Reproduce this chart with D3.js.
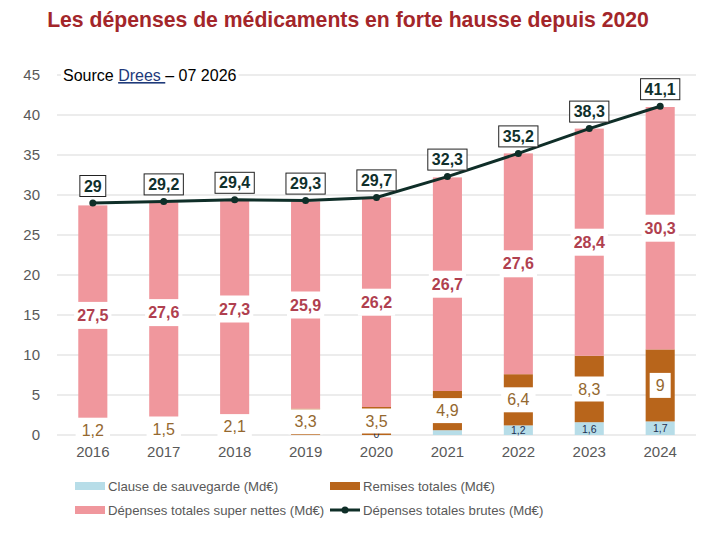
<!DOCTYPE html>
<html>
<head>
<meta charset="utf-8">
<script src="https://cdn.jsdelivr.net/npm/d3@7"></script>
<style>
  body { margin: 0; background: #fff; }
  svg { font-family: "Liberation Sans", Arial, sans-serif; }
</style>
</head>
<body>
<div id="container"></div>
<script>
//CONSTANTS AND GLOBALS
const width = 708,
    height = 540,
    margin = {top: 75, bottom: 105, left: 57, right: 12};

// DATA
const years = ["2016", "2017", "2018", "2019", "2020", "2021", "2022", "2023", "2024"];
const clause = [0, 0, 0, 0, 0, 0.6, 1.2, 1.6, 1.7];
const clauseLabels = [null, null, null, null, "0", null, "1,2", "1,6", "1,7"];
const remises = [1.2, 1.5, 2.1, 3.3, 3.5, 4.9, 6.4, 8.3, 9];
const superNettes = [27.5, 27.6, 27.3, 25.9, 26.2, 26.7, 27.6, 28.4, 30.3];
const brutes = [29, 29.2, 29.4, 29.3, 29.7, 32.3, 35.2, 38.3, 41.1];
const yTicks = [0, 5, 10, 15, 20, 25, 30, 35, 40, 45];

const colors = {
  clause: "#b7dde8",
  remises: "#b8651b",
  nettes: "#f0979d",
  brutes: "#0f2e28"
};

const fmt = v => String(v).replace(".", ",");

const data = years.map((y, i) => ({
  year: y,
  clause: clause[i],
  remises: remises[i],
  nettes: superNettes[i],
  brutes: brutes[i],
  clauseLabel: clauseLabels[i]
}));

//SCALES
const xScale = d3.scaleBand()
  .domain(years)
  .range([margin.left, width - margin.right])
  .paddingInner(0.59)
  .paddingOuter(0.3);

const yScale = d3.scaleLinear()
  .domain([0, 45])
  .range([height - margin.bottom, margin.top]);

const svg = d3.select("#container")
  .append("svg")
  .attr("width", width)
  .attr("height", height);

// title
svg.append("text")
  .attr("x", 348)
  .attr("y", 27)
  .attr("text-anchor", "middle")
  .attr("font-size", 21.2)
  .attr("font-weight", "bold")
  .attr("fill", "#a3262a")
  .text("Les dépenses de médicaments en forte hausse depuis 2020");

// gridlines
svg.append("g")
  .selectAll("line")
  .data(yTicks)
  .join("line")
  .attr("x1", margin.left)
  .attr("x2", width - margin.right)
  .attr("y1", d => yScale(d))
  .attr("y2", d => yScale(d))
  .attr("stroke", "#d9d9d9")
  .attr("stroke-width", 1);

// y axis
const yAxisGroup = svg.append("g")
  .attr("transform", `translate(${margin.left - 14}, 0)`)
  .call(d3.axisLeft(yScale).tickValues(yTicks).tickSize(0).tickFormat(d => d));
yAxisGroup.select(".domain").remove();
yAxisGroup.selectAll("text")
  .attr("font-size", 15)
  .attr("fill", "#595959")
  .attr("font-family", "Liberation Sans, Arial, sans-serif");

// x axis
const xAxisGroup = svg.append("g")
  .attr("transform", `translate(0, ${height - margin.bottom + 8})`)
  .call(d3.axisBottom(xScale).tickSize(0));
xAxisGroup.select(".domain").remove();
xAxisGroup.selectAll("text")
  .attr("font-size", 15)
  .attr("fill", "#595959")
  .attr("font-family", "Liberation Sans, Arial, sans-serif");

// stacked bars
const keys = ["clause", "remises", "nettes"];
const stack = d3.stack().keys(keys)(data);

svg.append("g")
  .selectAll("g")
  .data(stack)
  .join("g")
  .attr("fill", d => colors[d.key])
  .selectAll("rect")
  .data(d => d)
  .join("rect")
  .attr("x", d => xScale(d.data.year))
  .attr("width", xScale.bandwidth())
  .attr("y", d => yScale(d[1]))
  .attr("height", d => yScale(d[0]) - yScale(d[1]));

// label helper: white box behind text
function boxedLabel(g, x, y, txt, opts) {
  const t = g.append("text")
    .attr("x", x)
    .attr("y", y)
    .attr("text-anchor", "middle")
    .attr("dominant-baseline", "central")
    .attr("font-size", opts.size)
    .attr("font-weight", opts.weight || "normal")
    .attr("fill", opts.color)
    .text(txt);
  const bb = t.node().getBBox();
  const px = opts.padX || 3, py = opts.padY || 1;
  const w = Math.max(bb.width + 2 * px, opts.minW || 0);
  g.insert("rect", "text:last-child")
    .attr("x", x - w / 2)
    .attr("y", bb.y - py)
    .attr("width", w)
    .attr("height", bb.height + 2 * py)
    .attr("fill", "#fff")
    .attr("stroke", opts.stroke || "none")
    .attr("stroke-width", 1);
}

const cx = d => xScale(d.year) + xScale.bandwidth() / 2;

// clause labels
const clauseG = svg.append("g");
data.forEach(d => {
  if (d.clauseLabel === null) return;
  clauseG.append("text")
    .attr("x", cx(d)).attr("y", yScale(d.clause / 2) - (d.clause === 0 ? 1 : 0))
    .attr("text-anchor", "middle")
    .attr("dominant-baseline", "central")
    .attr("font-size", 10.5)
    .attr("fill", "#1f3050")
    .text(d.clauseLabel);
});

// remises labels
const remG = svg.append("g");
data.forEach(d => {
  const g = remG.append("g");
  boxedLabel(g, cx(d), yScale(d.clause + d.remises / 2), fmt(d.remises),
    {size: 16, color: "#94682f", padX: 6, padY: 4});
});

// super nettes labels
const netG = svg.append("g");
data.forEach(d => {
  const g = netG.append("g");
  boxedLabel(g, cx(d), yScale(d.clause + d.remises + d.nettes / 2), fmt(d.nettes),
    {size: 16, weight: "bold", color: "#b0404f", padX: 3, padY: 5, minW: 36});
});

// line brutes
const lineGen = d3.line()
  .x(d => cx(d))
  .y(d => yScale(d.brutes));

svg.append("path")
  .datum(data)
  .attr("fill", "none")
  .attr("stroke", colors.brutes)
  .attr("stroke-width", 3)
  .attr("d", lineGen);

svg.append("g")
  .selectAll("circle")
  .data(data)
  .join("circle")
  .attr("cx", d => cx(d))
  .attr("cy", d => yScale(d.brutes))
  .attr("r", 3.5)
  .attr("fill", colors.brutes);

// brutes labels
const brG = svg.append("g");
data.forEach(d => {
  const g = brG.append("g");
  boxedLabel(g, cx(d), yScale(d.brutes) - 17, fmt(d.brutes),
    {size: 16, weight: "bold", color: "#10302c", padX: 4, padY: 2, stroke: "#222"});
});

// source
const src = svg.append("g");
const srcText = src.append("text")
  .attr("x", 63)
  .attr("y", 81)
  .attr("font-size", 16)
  .attr("fill", "#000");
srcText.append("tspan").text("Source ");
srcText.append("tspan").attr("fill", "#1f3a7a").attr("text-decoration", "underline").text("Drees ");
srcText.append("tspan").text("– 07 2026");
const sbb = srcText.node().getBBox();
src.insert("rect", "text")
  .attr("x", sbb.x - 2).attr("y", sbb.y)
  .attr("width", sbb.width + 4).attr("height", sbb.height)
  .attr("fill", "#fff");

// legend
const legendItems = [
  {label: "Clause de sauvegarde (Md€)", type: "rect", color: colors.clause, x: 75, y: 486},
  {label: "Remises totales (Md€)", type: "rect", color: colors.remises, x: 330, y: 486},
  {label: "Dépenses totales super nettes (Md€)", type: "rect", color: colors.nettes, x: 75, y: 510},
  {label: "Dépenses totales brutes (Md€)", type: "line", color: colors.brutes, x: 330, y: 510}
];

const legend = svg.append("g")
  .selectAll("g")
  .data(legendItems)
  .join("g")
  .attr("transform", d => `translate(${d.x}, ${d.y})`);

legend.filter(d => d.type === "rect")
  .append("rect")
  .attr("x", 0).attr("y", -4)
  .attr("width", 30).attr("height", 8)
  .attr("fill", d => d.color);

const lineLeg = legend.filter(d => d.type === "line");
lineLeg.append("line")
  .attr("x1", 0).attr("x2", 30)
  .attr("stroke", d => d.color).attr("stroke-width", 3);
lineLeg.append("circle")
  .attr("cx", 15).attr("r", 3.5).attr("fill", d => d.color);

legend.append("text")
  .attr("x", 33)
  .attr("dominant-baseline", "central")
  .attr("font-size", 13.2)
  .attr("fill", "#595959")
  .text(d => d.label);
</script>
</body>
</html>
